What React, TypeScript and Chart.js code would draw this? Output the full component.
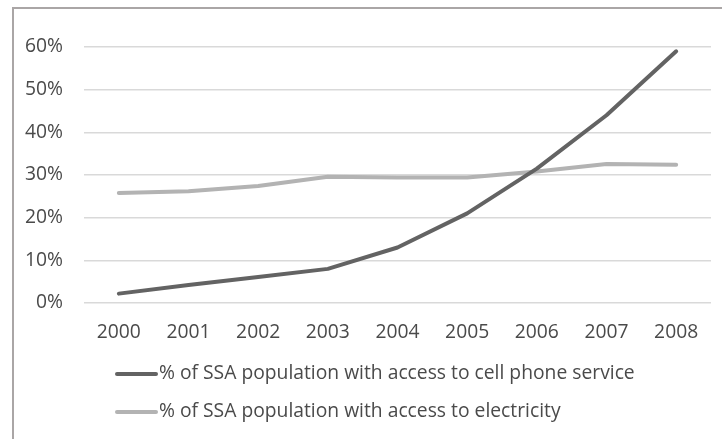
import React, { useEffect, useRef } from "react";
import { Chart, registerables } from "chart.js";

Chart.register(...registerables);

const years = ["2000", "2001", "2002", "2003", "2004", "2005", "2006", "2007", "2008"];
const cellPhone = [2.2, 4.2, 6.1, 8.0, 13.0, 21.0, 31.5, 44.0, 59.0];
const electricity = [25.8, 26.2, 27.4, 29.6, 29.4, 29.4, 30.8, 32.6, 32.4];
const seriesLabels = [
  "% of SSA population with access to cell phone service",
  "% of SSA population with access to electricity",
];
const seriesColors = ["#636363", "#b3b3b3"];
const yTicks = [0, 10, 20, 30, 40, 50, 60];

const FONT = "'Open Sans', 'Noto Sans', sans-serif";
const FS = 19.3;
const TEXT = "#4a4a4a";

const framePlugin = {
  id: "frame",
  beforeDraw(chart: any) {
    const ctx = chart.ctx;
    ctx.save();
    ctx.strokeStyle = "#aaa6a6";
    ctx.lineWidth = 2;
    ctx.beginPath();
    ctx.moveTo(13, chart.height);
    ctx.lineTo(13, 8);
    ctx.lineTo(chart.width, 8);
    ctx.stroke();
    ctx.restore();
  },
};

const legendPlugin = {
  id: "customLegend",
  afterDraw(chart: any) {
    const ctx = chart.ctx;
    ctx.save();
    ctx.font = `${FS}px ${FONT}`;
    ctx.textBaseline = "middle";
    ctx.textAlign = "left";
    const rows = [374, 412];
    chart.data.datasets.forEach((ds: any, i: number) => {
      const y = rows[i];
      ctx.strokeStyle = ds.borderColor;
      ctx.lineWidth = 4;
      ctx.lineCap = "round";
      ctx.beginPath();
      ctx.moveTo(117, y);
      ctx.lineTo(156, y);
      ctx.stroke();
      ctx.fillStyle = TEXT;
      ctx.fillText(ds.label, 159, y);
    });
    ctx.restore();
  },
};

export default function App() {
  const ref = useRef<HTMLCanvasElement>(null);
  useEffect(() => {
    if (!ref.current) return;
    const chart = new Chart(ref.current, {
      type: "line",
      data: {
        labels: years,
        datasets: [
          {
            label: seriesLabels[0],
            data: cellPhone,
            borderColor: seriesColors[0],
            backgroundColor: seriesColors[0],
            borderWidth: 4,
            pointRadius: 0,
            tension: 0,
            borderCapStyle: "round",
            borderJoinStyle: "round",
          },
          {
            label: seriesLabels[1],
            data: electricity,
            borderColor: seriesColors[1],
            backgroundColor: seriesColors[1],
            borderWidth: 4,
            pointRadius: 0,
            tension: 0,
            borderCapStyle: "round",
            borderJoinStyle: "round",
          },
        ],
      },
      options: {
        animation: false,
        responsive: false,
        maintainAspectRatio: false,
        layout: { padding: { top: 47, left: 14, right: 11, bottom: 86 } },
        plugins: {
          legend: { display: false },
          tooltip: { enabled: false },
        },
        scales: {
          x: {
            offset: true,
            grid: { display: false, drawTicks: false },
            border: { display: false },
            ticks: { color: TEXT, font: { family: FONT, size: FS }, padding: 18, maxRotation: 0 },
            afterFit: (s: any) => {
              s.height = 50;
            },
          },
          y: {
            min: 0,
            max: 60,
            afterBuildTicks: (s: any) => {
              s.ticks = yTicks.map((v) => ({ value: v }));
            },
            grid: { color: "#d9d9d9", lineWidth: 1.5, drawTicks: false },
            border: { display: false },
            ticks: {
              color: TEXT,
              font: { family: FONT, size: FS },
              padding: 21,
              callback: (v: any) => `${v}%`,
            },
            afterFit: (s: any) => {
              s.width = 70;
            },
          },
        },
      },
      plugins: [framePlugin, legendPlugin],
    });
    return () => chart.destroy();
  }, []);
  return (
    <div style={{ position: "absolute", left: 0, top: 0, width: 722, height: 439, background: "#fff" }}>
      <canvas ref={ref} width={722} height={439} style={{ display: "block" }} />
    </div>
  );
}
